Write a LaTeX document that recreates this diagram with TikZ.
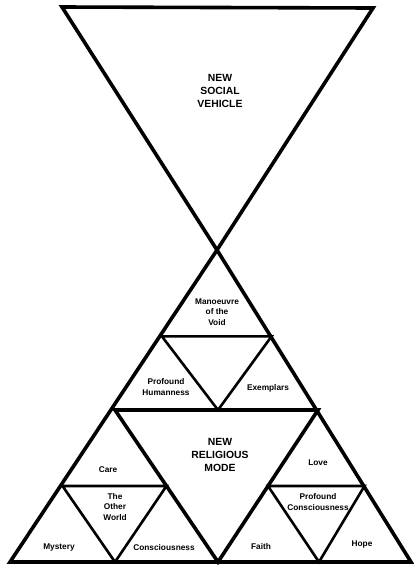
\documentclass[tikz,border=0pt]{standalone}
\usepackage{fontspec}
\setmainfont{Liberation Sans}
\usetikzlibrary{calc}
\tikzset{
  cadre/.style={line width=3.6pt, line join=miter},
  trait/.style={line width=2.6pt, line join=miter},
  titre/.style={font=\fontsize{10.4}{12.6}\selectfont\bfseries, align=center, inner sep=1pt},
  etiquette/.style={font=\fontsize{8.3}{10.6}\selectfont\bfseries, align=center, inner sep=1pt},
}
\begin{document}
\begin{tikzpicture}[x=1pt,y=-1pt]
            \useasboundingbox (0,0) rectangle (414,566);
            % Le triangle du haut (pointe en bas)
            \coordinate (S1) at (62,7);
            \coordinate (S2) at (373,8);
            \coordinate (S3) at (217,250);
            
            % Le grand triangle du bas
            \coordinate (A) at (217,250);
            \coordinate (BL) at (10,562);
            \coordinate (BR) at (411,562);
            \coordinate (ML) at (115,410);
            \coordinate (MR) at (318,410);
            \coordinate (MB) at (218,562);
            
            % Les sommets des petits triangles inverses
            \coordinate (P1) at ($(A)!0.54!(ML)$);
            \coordinate (P2) at ($(A)!0.54!(MR)$);
            \coordinate (P3) at (218,410);
            \coordinate (Q1) at ($(ML)!0.5!(BL)$);
            \coordinate (Q2) at ($(ML)!0.5!(MB)$);
            \coordinate (Q3) at (115,562);
            \coordinate (R1) at ($(MR)!0.5!(MB)$);
            \coordinate (R2) at ($(MR)!0.5!(BR)$);
            \coordinate (R3) at (319,562);
            
            % Tracé des triangles
            \draw[cadre] (S1) -- (S2) -- (S3) -- cycle;
            \draw[cadre] (A) -- (BL) -- (BR) -- cycle;
            \draw[cadre] (ML) -- (MR) -- (MB) -- cycle;
            \draw[trait] (P1) -- (P2) -- (P3) -- cycle;
            \draw[trait] (Q1) -- (Q2) -- (Q3) -- cycle;
            \draw[trait] (R1) -- (R2) -- (R3) -- cycle;
            
            % Les textes
            \node[titre] (social) at (220,91) {NEW\\SOCIAL\\VEHICLE};
            \node[titre] (religieux) at (220,455) {NEW\\RELIGIOUS\\MODE};
            \node[etiquette] (manoeuvre) at (217,312) {Manoeuvre\\of the\\Void};
            \node[etiquette] (humain) at (166,387) {Profound\\Humanness};
            \node[etiquette] (exemples) at (268,388) {Exemplars};
            \node[etiquette] (soin) at (108,470) {Care};
            \node[etiquette] (autre) at (115,507) {The\\Other\\World};
            \node[etiquette] (mystere) at (59,547) {Mystery};
            \node[etiquette] (conscience) at (164,548) {Consciousness};
            \node[etiquette] (amour) at (318,463) {Love};
            \node[etiquette] (profonde) at (318,502) {Profound\\Consciousness};
            \node[etiquette] (foi) at (261,547) {Faith};
            \node[etiquette] (espoir) at (362,544) {Hope};
\end{tikzpicture}
\end{document}
